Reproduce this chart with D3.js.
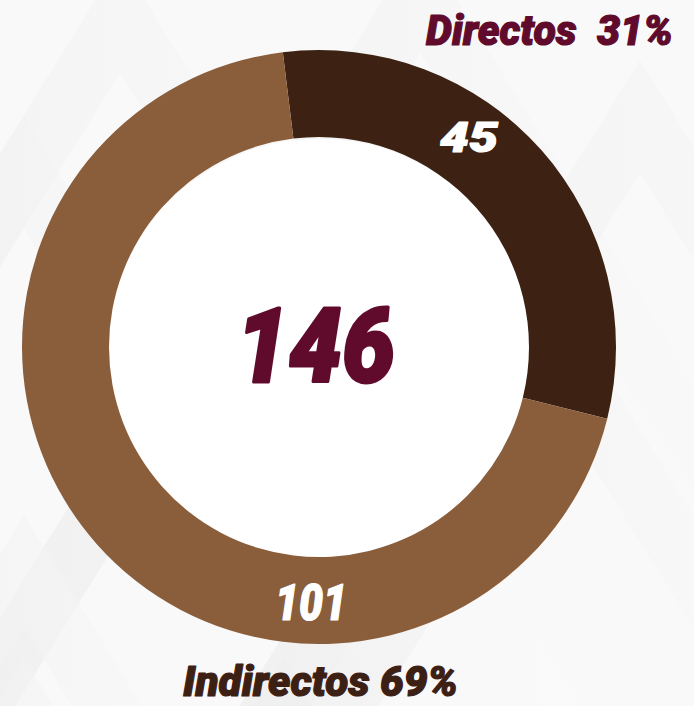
<!DOCTYPE html>
<html>
<head>
<meta charset="utf-8">
<script src="https://cdn.jsdelivr.net/npm/d3@7"></script>
<style>
  html, body { margin: 0; padding: 0; background: #f8f8f8; }
  svg { display: block; }
  text { font-family: Roboto, "Open Sans", sans-serif; font-style: italic; font-weight: 900; }
</style>
</head>
<body>
<div id="chart"></div>
<script>
// data
var categories = ["Directos", "Indirectos"];
var values = [45, 101];
var percents = ["31%", "69%"];
var colors = ["#3d2213", "#8a5d3b"];

var width = 694, height = 706;
var cx = 319, cy = 347;
var outerR = 297, innerR = 210;

var svg = d3.select("#chart")
  .append("svg")
  .attr("width", width)
  .attr("height", height);

// soft chevron background
var defs = svg.append("defs");
var grad = defs.append("linearGradient")
  .attr("id", "shade")
  .attr("x1", "0").attr("y1", "0")
  .attr("x2", "1").attr("y2", "0");
grad.append("stop").attr("offset", "0").attr("stop-color", "#e6e6e6");
grad.append("stop").attr("offset", "0.6").attr("stop-color", "#f6f6f6");
grad.append("stop").attr("offset", "1").attr("stop-color", "#fbfbfb");

svg.append("rect")
  .attr("width", width).attr("height", height)
  .attr("fill", "#f9f9f9");

// apex points of the light chevrons behind the chart
var apexes = [[24, 116], [120, -40], [420, -60], [24, 515], [24, 658], [283, 658], [560, 300], [640, 60]];
apexes.forEach(function(a) {
  var h = 900, s = 0.62, t = 70;
  var pts = [
    [a[0], a[1]], [a[0] + h * s, a[1] + h], [a[0] + h * s - t, a[1] + h],
    [a[0], a[1] + t / s], [a[0] - h * s + t, a[1] + h], [a[0] - h * s, a[1] + h]
  ];
  svg.append("polygon")
    .attr("points", pts.map(function(p) { return p.join(","); }).join(" "))
    .attr("fill", "url(#shade)")
    .attr("opacity", 0.55);
});

var g = svg.append("g")
  .attr("transform", "translate(" + cx + "," + cy + ")");

// white hole
g.append("circle")
  .attr("cx", 1).attr("cy", 4)
  .attr("r", innerR + 2)
  .attr("fill", "#ffffff");

var start = -7 * Math.PI / 180;
var pie = d3.pie()
  .sort(null)
  .startAngle(start)
  .endAngle(start + 2 * Math.PI);

var arc = d3.arc()
  .innerRadius(innerR)
  .outerRadius(outerR);

g.selectAll("path")
  .data(pie(values))
  .enter()
  .append("path")
  .attr("d", arc)
  .attr("fill", function(d, i) { return colors[i]; });

// heavier look than plain bold: stroke in the same colour
function label(x, y, size, color, len, str, sw) {
  return svg.append("text")
    .attr("x", x).attr("y", y)
    .attr("font-size", size)
    .attr("fill", color)
    .attr("stroke", color)
    .attr("stroke-width", sw)
    .attr("stroke-linejoin", "round")
    .attr("textLength", len)
    .attr("lengthAdjust", "spacingAndGlyphs")
    .attr("xml:space", "preserve")
    .text(str);
}

// total in the middle
label(236, 382, 104, "#600a2c", 159, d3.sum(values), 3);

// values on the ring
label(440, 152, 43, "#ffffff", 58, values[0], 1.2);
label(275, 620, 49, "#ffffff", 72, values[1], 1.2);

// category labels
label(426, 45, 42, "#600a2c", 247, categories[0] + "  " + percents[0], 1.2);
label(183, 696, 42, "#3d2014", 275, categories[1] + " " + percents[1], 1.2);
</script>
</body>
</html>
